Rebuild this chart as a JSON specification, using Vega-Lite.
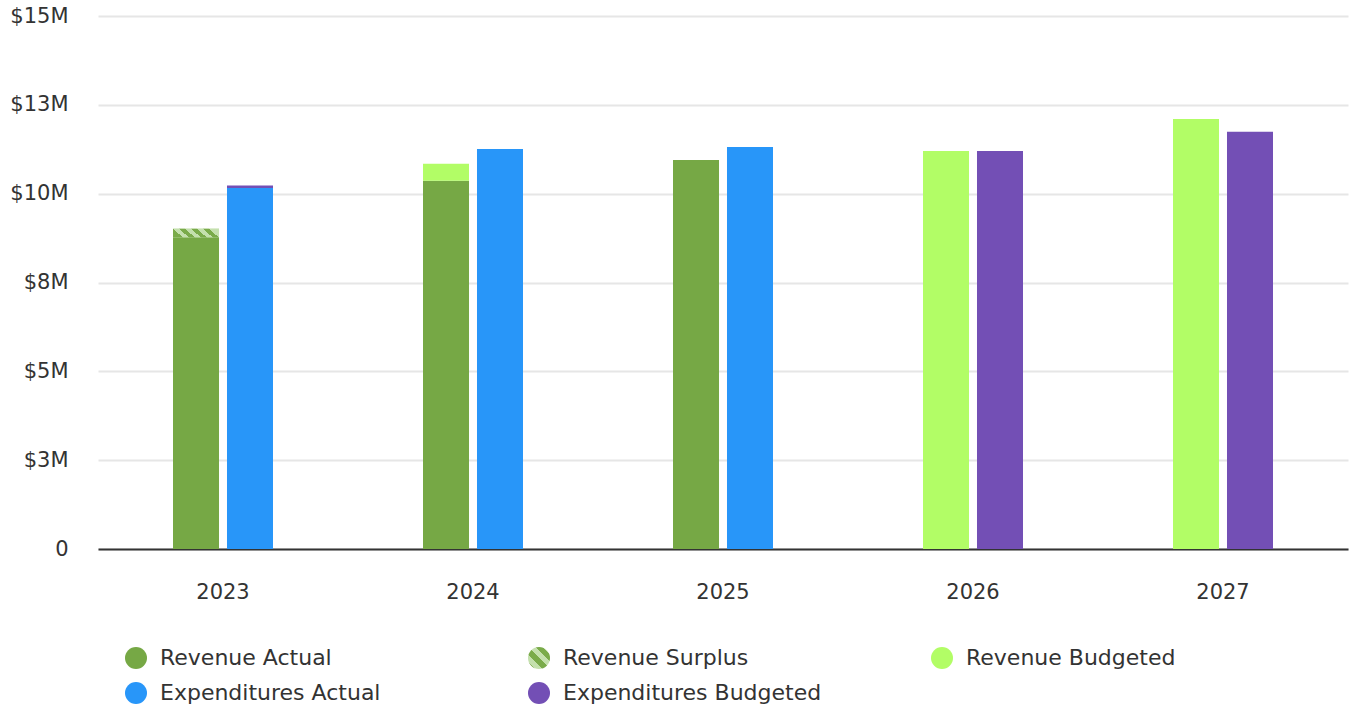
{
  "$schema": "https://vega.github.io/schema/vega-lite/v6.json",
  "width": 1250,
  "height": 533,
  "autosize": {"type": "none"},
  "padding": {"left": 98, "top": 16, "right": 3, "bottom": 159},
  "background": "white",
  "config": {
    "view": {"stroke": null},
    "font": "DejaVu Sans"
  },
  "data": {
    "values": [
      {"year": "2023", "group": "Revenue", "series": "Revenue Actual", "ord": 1, "value": 8770000},
      {"year": "2023", "group": "Revenue", "series": "Revenue Surplus", "ord": 2, "value": 240000},
      {"year": "2023", "group": "Expenditures", "series": "Expenditures Actual", "ord": 1, "value": 10160000},
      {"year": "2023", "group": "Expenditures", "series": "Expenditures Budgeted", "ord": 2, "value": 70000},
      {"year": "2024", "group": "Revenue", "series": "Revenue Actual", "ord": 1, "value": 10360000},
      {"year": "2024", "group": "Revenue", "series": "Revenue Budgeted", "ord": 2, "value": 480000},
      {"year": "2024", "group": "Expenditures", "series": "Expenditures Actual", "ord": 1, "value": 11260000},
      {"year": "2025", "group": "Revenue", "series": "Revenue Actual", "ord": 1, "value": 10950000},
      {"year": "2025", "group": "Expenditures", "series": "Expenditures Actual", "ord": 1, "value": 11310000},
      {"year": "2026", "group": "Revenue", "series": "Revenue Budgeted", "ord": 1, "value": 11200000},
      {"year": "2026", "group": "Expenditures", "series": "Expenditures Budgeted", "ord": 1, "value": 11200000},
      {"year": "2027", "group": "Revenue", "series": "Revenue Budgeted", "ord": 1, "value": 12100000},
      {"year": "2027", "group": "Expenditures", "series": "Expenditures Budgeted", "ord": 1, "value": 11740000}
    ]
  },
  "transform": [
    {"stack": "value", "groupby": ["year", "group"], "sort": [{"field": "ord", "order": "ascending"}], "as": ["v0", "v1"]}
  ],
  "encoding": {
    "x": {
      "field": "year",
      "type": "nominal",
      "scale": {"paddingInner": 0.6, "paddingOuter": 0.3},
      "axis": {
        "title": null,
        "labelAngle": 0,
        "ticks": false,
        "labelFontSize": 21,
        "labelColor": "#333333",
        "labelPadding": 32,
        "domainColor": "#333333",
        "domainWidth": 2
      }
    },
    "xOffset": {
      "field": "group",
      "type": "nominal",
      "sort": ["Revenue", "Expenditures"],
      "scale": {"paddingInner": 0.148, "paddingOuter": 0}
    },
    "y": {
      "field": "v1",
      "type": "quantitative",
      "scale": {"domain": [0, 15000000], "nice": false},
      "axis": {
        "title": null,
        "values": [0, 2500000, 5000000, 7500000, 10000000, 12500000, 15000000],
        "labelExpr": "datum.value == 0 ? '0' : '$' + round(datum.value / 1000000) + 'M'",
        "domain": false,
        "ticks": false,
        "labelFontSize": 21,
        "labelColor": "#333333",
        "labelPadding": 30,
        "gridColor": "#e6e6e6",
        "gridWidth": 2
      }
    }
  },
  "layer": [
    {
      "mark": {"type": "bar"},
      "encoding": {
        "y2": {"field": "v0"},
        "color": {
          "field": "series",
          "type": "nominal",
          "scale": {
            "domain": ["Revenue Actual", "Revenue Surplus", "Revenue Budgeted", "Expenditures Actual", "Expenditures Budgeted"],
            "range": ["#76a845", "#9cc777", "#b2fd66", "#2896f9", "#734fb5"]
          },
          "legend": null
        }
      }
    },
    {
      "transform": [{"filter": "datum.series === 'Revenue Surplus'"}],
      "mark": {
        "type": "bar",
        "color": {
          "gradient": "linear", "x1": 0, "y1": 0.6, "x2": 1, "y2": 0.4,
          "stops": [
            {"offset": 0, "color": "#7aab4a"}, {"offset": 0.125, "color": "#7aab4a"},
            {"offset": 0.125, "color": "#c4e0ad"}, {"offset": 0.25, "color": "#c4e0ad"},
            {"offset": 0.25, "color": "#7aab4a"}, {"offset": 0.375, "color": "#7aab4a"},
            {"offset": 0.375, "color": "#c4e0ad"}, {"offset": 0.5, "color": "#c4e0ad"},
            {"offset": 0.5, "color": "#7aab4a"}, {"offset": 0.625, "color": "#7aab4a"},
            {"offset": 0.625, "color": "#c4e0ad"}, {"offset": 0.75, "color": "#c4e0ad"},
            {"offset": 0.75, "color": "#7aab4a"}, {"offset": 0.875, "color": "#7aab4a"},
            {"offset": 0.875, "color": "#c4e0ad"}, {"offset": 1, "color": "#c4e0ad"}
          ]
        }
      },
      "encoding": {"y2": {"field": "v0"}}
    },
    {
      "mark": {"type": "point", "opacity": 0, "filled": true},
      "encoding": {
        "shape": {
          "field": "series",
          "type": "nominal",
          "sort": ["Revenue Actual", "Revenue Surplus", "Revenue Budgeted", "Expenditures Actual", "Expenditures Budgeted"],
          "scale": {
            "range": ["circle", "circle", "circle", "circle", "circle"]
          },
          "legend": {
            "title": null,
            "orient": "none",
            "legendX": 27,
            "legendY": 631,
            "direction": "horizontal",
            "columns": 3,
            "gridAlign": "all",
            "columnPadding": 109,
            "rowPadding": 13,
            "symbolSize": 484,
            "symbolStrokeWidth": 0,
            "symbolOpacity": 1,
            "labelFontSize": 22,
            "labelColor": "#333333",
            "labelOffset": 13,
            "labelLimit": 400,
            "encoding": {
              "symbols": {
                "fill": {"value": {"expr": "datum.value === 'Revenue Surplus' ? {gradient: 'linear', x1: 0, y1: 1, x2: 1, y2: 0, stops: [{offset: 0, color: '#7aab4a'}, {offset: 0.17, color: '#7aab4a'}, {offset: 0.17, color: '#c4e0ad'}, {offset: 0.33, color: '#c4e0ad'}, {offset: 0.33, color: '#7aab4a'}, {offset: 0.5, color: '#7aab4a'}, {offset: 0.5, color: '#c4e0ad'}, {offset: 0.67, color: '#c4e0ad'}, {offset: 0.67, color: '#7aab4a'}, {offset: 0.83, color: '#7aab4a'}, {offset: 0.83, color: '#c4e0ad'}, {offset: 1, color: '#c4e0ad'}]} : datum.value === 'Revenue Actual' ? '#76a845' : datum.value === 'Revenue Budgeted' ? '#b2fd66' : datum.value === 'Expenditures Actual' ? '#2896f9' : '#734fb5'"}}
              }
            }
          }
        }
      }
    }
  ]
}
